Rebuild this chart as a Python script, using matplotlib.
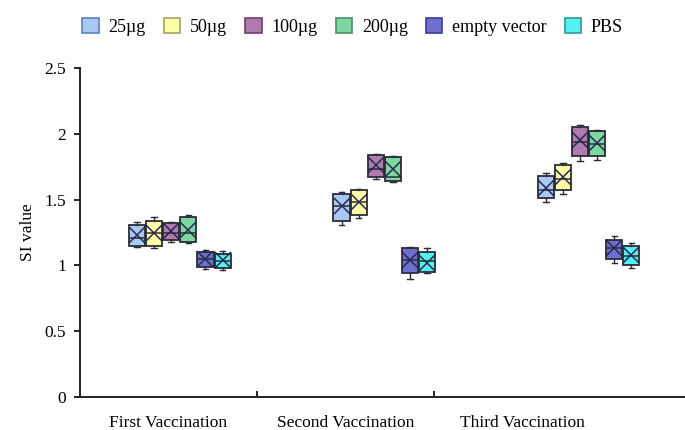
import matplotlib.pyplot as plt
from matplotlib.patches import Patch

plt.rcParams['font.family'] = ['Liberation Serif', 'DejaVu Serif']

groups = ["First Vaccination", "Second Vaccination", "Third Vaccination"]
doses = ["25\u00b5g", "50\u00b5g", "100\u00b5g", "200\u00b5g", "empty vector", "PBS"]

# per dose: one value for each vaccination round
whislo = [[1.14, 1.31, 1.48], [1.13, 1.36, 1.54], [1.18, 1.66, 1.79],
          [1.17, 1.63, 1.80], [0.97, 0.90, 1.02], [0.965, 0.94, 0.98]]
q1 = [[1.15, 1.34, 1.51], [1.15, 1.38, 1.57], [1.19, 1.67, 1.83],
      [1.18, 1.64, 1.83], [0.99, 0.94, 1.05], [0.98, 0.95, 1.00]]
med = [[1.21, 1.45, 1.57], [1.25, 1.48, 1.66], [1.25, 1.73, 1.94],
       [1.25, 1.67, 1.92], [1.05, 1.04, 1.13], [1.03, 1.03, 1.07]]
q3 = [[1.31, 1.54, 1.68], [1.34, 1.57, 1.76], [1.32, 1.84, 2.05],
      [1.37, 1.82, 2.02], [1.10, 1.13, 1.19], [1.09, 1.10, 1.15]]
whishi = [[1.33, 1.56, 1.70], [1.37, 1.58, 1.78], [1.33, 1.85, 2.07],
          [1.38, 1.83, 2.03], [1.12, 1.14, 1.22], [1.11, 1.13, 1.17]]
means = [[1.23, 1.45, 1.59], [1.25, 1.48, 1.67], [1.26, 1.76, 1.95],
         [1.27, 1.73, 1.93], [1.05, 1.04, 1.13], [1.04, 1.02, 1.08]]

fills = ["#a8c8f5", "#ffffa6", "#b07cb0", "#7fd7a0", "#6f6fd2", "#55f0f0"]
edges = ["#5f82bf", "#a9a263", "#6e416e", "#46916a", "#3b3b9a", "#2c9a9a"]

fig = plt.figure(figsize=(6.85, 4.30), dpi=100)
ax = fig.add_axes([80/685, 33/430, 605/685, 329/430])

group_start = 0.277
group_step = 1.155
box_step = 0.0966
box_w = 0.091

for k in range(len(doses)):
    stats = []
    pos = []
    for i in range(len(groups)):
        stats.append(dict(whislo=whislo[k][i], q1=q1[k][i], med=med[k][i],
                          q3=q3[k][i], whishi=whishi[k][i], mean=means[k][i],
                          fliers=[]))
        pos.append(group_start + group_step * i + box_w / 2 + box_step * k)
    ax.bxp(stats, positions=pos, widths=box_w, patch_artist=True,
           showmeans=True, manage_ticks=False,
           boxprops=dict(facecolor=fills[k], edgecolor="#2c2c38", linewidth=1.3),
           medianprops=dict(color="#2c2c38", linewidth=1.1),
           whiskerprops=dict(color="#2c2c38", linewidth=1.0),
           capprops=dict(color="#2c2c38", linewidth=1.0),
           capwidths=box_w * 0.35,
           meanprops=dict(marker="x", markersize=12, markeredgecolor="#262a50",
                          markeredgewidth=1.1))

ax.set_xlim(0, 605/177)
ax.set_ylim(0, 2.5)
ax.set_yticks([0, 0.5, 1, 1.5, 2, 2.5])
ax.set_yticklabels(["0", "0.5", "1", "1.5", "2", "2.5"])
ax.set_xticks([1, 2])
ax.set_xticklabels([])
ax.set_xticks([0.5, 1.5, 2.5], minor=True)
ax.set_xticklabels(groups, minor=True)
ax.tick_params(axis="x", which="major", direction="in", length=4, width=1.2)
ax.tick_params(axis="x", which="minor", length=0, pad=13, labelsize=12.5)
ax.tick_params(axis="y", direction="out", length=4, width=1.2, labelsize=12.5, pad=6)
ax.set_ylabel("SI value", fontsize=12.5, labelpad=6)

for s in ["top", "right"]:
    ax.spines[s].set_visible(False)
for s in ["left", "bottom"]:
    ax.spines[s].set_linewidth(1.4)
    ax.spines[s].set_color("#222222")

handles = [Patch(facecolor=f, edgecolor=e, linewidth=1.2) for f, e in zip(fills, edges)]
fig.legend(handles, doses, loc="upper center", bbox_to_anchor=(0.515, 0.995),
           ncol=6, frameon=False, fontsize=13, handlelength=0.9, handleheight=0.9,
           handletextpad=0.55, columnspacing=1.0)

fig.savefig("out.png", dpi=100)
